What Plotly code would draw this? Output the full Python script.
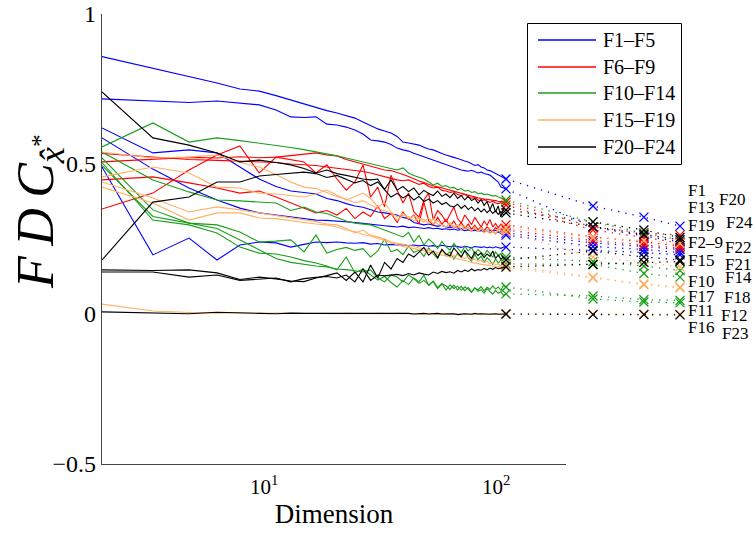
import math
import plotly.graph_objects as go

# Dimensions of the solid curves and of the dotted extension
DIMS = list(range(2, 51))
EXT_DIMS = [100, 150, 200]

GROUPS = ["F1\u2013F5", "F6\u2013F9", "F10\u2013F14", "F15\u2013F19", "F20\u2013F24"]
GROUP_COLORS = ["#0000ff", "#ff0000", "#1a9e1a", "#ffb066", "#000000"]

# FDC per function for dimension 2..50
F1 = [0.858, 0.820, 0.793, 0.770, 0.750, 0.743, 0.728, 0.713, 0.700, 0.690,
      0.678, 0.670, 0.660, 0.653, 0.640, 0.628, 0.617, 0.610, 0.603, 0.592,
      0.573, 0.570, 0.566, 0.563, 0.556, 0.550, 0.547, 0.540, 0.535, 0.530,
      0.527, 0.522, 0.518, 0.513, 0.510, 0.507, 0.500, 0.495, 0.498, 0.490,
      0.487, 0.480, 0.478, 0.473, 0.468, 0.465, 0.460, 0.455, 0.450]
F2 = [0.717, 0.710, 0.705, 0.710, 0.703, 0.697, 0.680, 0.657, 0.655, 0.657,
      0.633, 0.630, 0.623, 0.613, 0.600, 0.580, 0.577, 0.573, 0.565, 0.553,
      0.547, 0.543, 0.536, 0.530, 0.525, 0.519, 0.513, 0.507, 0.502, 0.497,
      0.494, 0.490, 0.486, 0.480, 0.478, 0.476, 0.479, 0.474, 0.470, 0.473,
      0.468, 0.466, 0.463, 0.455, 0.447, 0.440, 0.423, 0.420, 0.417]
F3 = [0.620, 0.537, 0.547, 0.537, 0.490, 0.450, 0.425, 0.410, 0.405, 0.400,
      0.385, 0.378, 0.368, 0.360, 0.356, 0.348, 0.340, 0.337, 0.334, 0.330,
      0.322, 0.318, 0.305, 0.300, 0.297, 0.300, 0.295, 0.292, 0.296, 0.290,
      0.288, 0.291, 0.286, 0.284, 0.288, 0.282, 0.285, 0.280, 0.283, 0.279,
      0.282, 0.278, 0.280, 0.276, 0.279, 0.274, 0.275, 0.272, 0.270]
F4 = [0.587, 0.483, 0.420, 0.380, 0.353, 0.337, 0.330, 0.323, 0.318, 0.313,
      0.312, 0.310, 0.307, 0.305, 0.302, 0.300, 0.297, 0.294, 0.292, 0.290,
      0.293, 0.288, 0.290, 0.287, 0.285, 0.288, 0.284, 0.286, 0.282, 0.284,
      0.281, 0.283, 0.279, 0.282, 0.278, 0.280, 0.277, 0.279, 0.276, 0.278,
      0.274, 0.277, 0.272, 0.275, 0.270, 0.273, 0.268, 0.266, 0.263]
F5 = [0.490, 0.197, 0.253, 0.180, 0.230, 0.240, 0.237, 0.223, 0.232, 0.240,
      0.238, 0.240, 0.237, 0.236, 0.238, 0.233, 0.235, 0.230, 0.232, 0.230,
      0.231, 0.228, 0.230, 0.227, 0.229, 0.226, 0.228, 0.225, 0.229, 0.226,
      0.224, 0.227, 0.225, 0.222, 0.226, 0.224, 0.221, 0.225, 0.223, 0.222,
      0.224, 0.221, 0.223, 0.220, 0.224, 0.222, 0.219, 0.223, 0.223]
F6 = [0.507, 0.515, 0.522, 0.520, 0.524, 0.521, 0.523, 0.528, 0.532, 0.537,
      0.530, 0.527, 0.515, 0.507, 0.500, 0.492, 0.486, 0.480, 0.478, 0.472,
      0.465, 0.458, 0.450, 0.443, 0.438, 0.432, 0.427, 0.424, 0.420, 0.417,
      0.412, 0.408, 0.405, 0.401, 0.398, 0.394, 0.392, 0.389, 0.387, 0.385,
      0.384, 0.382, 0.380, 0.379, 0.378, 0.376, 0.375, 0.374, 0.373]
F7 = [0.535, 0.522, 0.515, 0.512, 0.510, 0.508, 0.505, 0.500, 0.497, 0.495,
      0.490, 0.486, 0.482, 0.480, 0.475, 0.470, 0.463, 0.457, 0.452, 0.447,
      0.444, 0.447, 0.438, 0.432, 0.436, 0.425, 0.420, 0.423, 0.412, 0.410,
      0.405, 0.408, 0.398, 0.395, 0.399, 0.390, 0.386, 0.388, 0.380, 0.378,
      0.381, 0.375, 0.372, 0.376, 0.370, 0.368, 0.371, 0.366, 0.363]
F8 = [0.350, 0.403, 0.480, 0.530, 0.560, 0.470, 0.523, 0.515, 0.507, 0.470,
      0.497, 0.450, 0.413, 0.440, 0.497, 0.390, 0.423, 0.357, 0.463, 0.413,
      0.370, 0.403, 0.340, 0.323, 0.380, 0.403, 0.313, 0.345, 0.330, 0.307,
      0.335, 0.357, 0.318, 0.303, 0.330, 0.312, 0.298, 0.322, 0.305, 0.290,
      0.310, 0.296, 0.315, 0.290, 0.302, 0.287, 0.300, 0.292, 0.297]
F9 = [0.447, 0.457, 0.437, 0.420, 0.403, 0.410, 0.390, 0.370, 0.352, 0.337,
      0.345, 0.330, 0.352, 0.318, 0.340, 0.325, 0.360, 0.318, 0.335, 0.305,
      0.340, 0.315, 0.330, 0.300, 0.372, 0.310, 0.296, 0.322, 0.300, 0.315,
      0.292, 0.310, 0.288, 0.305, 0.285, 0.300, 0.282, 0.296, 0.280, 0.292,
      0.278, 0.290, 0.283, 0.276, 0.288, 0.280, 0.284, 0.277, 0.280]
F10 = [0.520, 0.347, 0.303, 0.297, 0.273, 0.240, 0.243, 0.247, 0.207, 0.263,
       0.203, 0.215, 0.222, 0.212, 0.218, 0.190, 0.210, 0.250, 0.207, 0.215,
       0.198, 0.226, 0.205, 0.213, 0.192, 0.220, 0.200, 0.185, 0.214, 0.196,
       0.207, 0.183, 0.202, 0.190, 0.211, 0.188, 0.176, 0.199, 0.181, 0.193,
       0.172, 0.188, 0.178, 0.165, 0.184, 0.170, 0.180, 0.163, 0.167]
F11 = [0.505, 0.313, 0.297, 0.270, 0.223, 0.203, 0.200, 0.190, 0.178, 0.170,
       0.160, 0.147, 0.190, 0.137, 0.150, 0.132, 0.113, 0.125, 0.105, 0.090,
       0.112, 0.098, 0.120, 0.107, 0.130, 0.095, 0.110, 0.088, 0.102, 0.080,
       0.097, 0.085, 0.093, 0.079, 0.090, 0.083, 0.072, 0.088, 0.076, 0.081,
       0.070, 0.084, 0.073, 0.066, 0.078, 0.069, 0.074, 0.062, 0.067]
F12 = [0.495, 0.325, 0.303, 0.285, 0.247, 0.215, 0.185, 0.172, 0.165, 0.160,
       0.157, 0.150, 0.148, 0.143, 0.140, 0.147, 0.120, 0.107, 0.130, 0.123,
       0.107, 0.130, 0.118, 0.102, 0.112, 0.097, 0.108, 0.085, 0.100, 0.094,
       0.082, 0.096, 0.080, 0.092, 0.078, 0.088, 0.074, 0.086, 0.080, 0.091,
       0.077, 0.089, 0.082, 0.094, 0.083, 0.090, 0.079, 0.095, 0.090]
F13 = [0.557, 0.637, 0.573, 0.587, 0.578, 0.570, 0.562, 0.555, 0.548, 0.541,
       0.535, 0.527, 0.520, 0.513, 0.507, 0.502, 0.497, 0.490, 0.486, 0.480,
       0.487, 0.470, 0.462, 0.457, 0.450, 0.440, 0.430, 0.436, 0.425, 0.428,
       0.420, 0.422, 0.414, 0.418, 0.410, 0.412, 0.405, 0.408, 0.401, 0.403,
       0.398, 0.400, 0.397, 0.393, 0.395, 0.389, 0.386, 0.383, 0.380]
F14 = [0.540, 0.447, 0.407, 0.380, 0.377, 0.373, 0.370, 0.345, 0.356, 0.340,
       0.335, 0.322, 0.310, 0.303, 0.300, 0.297, 0.288, 0.280, 0.272, 0.263,
       0.257, 0.272, 0.240, 0.262, 0.230, 0.250, 0.236, 0.218, 0.242, 0.225,
       0.213, 0.235, 0.218, 0.204, 0.226, 0.210, 0.222, 0.200, 0.215, 0.205,
       0.196, 0.212, 0.200, 0.190, 0.207, 0.194, 0.201, 0.186, 0.190]
F15 = [0.457, 0.490, 0.470, 0.423, 0.420, 0.403, 0.400, 0.395, 0.390, 0.400,
       0.413, 0.396, 0.380, 0.392, 0.403, 0.385, 0.357, 0.372, 0.340, 0.323,
       0.335, 0.318, 0.327, 0.320, 0.306, 0.322, 0.300, 0.312, 0.295, 0.290,
       0.305, 0.288, 0.298, 0.280, 0.294, 0.283, 0.277, 0.290, 0.274, 0.285,
       0.270, 0.282, 0.268, 0.276, 0.265, 0.279, 0.270, 0.268, 0.273]
F16 = [0.033, 0.010, 0.005, 0.003, 0.004, 0.002, 0.003, 0.002, 0.003, 0.002,
       0.002, 0.001, 0.002, 0.001, 0.002, 0.001, 0.002, 0.001, 0.001, 0.002,
       0.001, 0.000, 0.001, 0.000, 0.001, 0.000, 0.001, 0.000, 0.000, 0.001,
       0.000, 0.001, 0.000, 0.000, 0.001, 0.000, 0.000, 0.001, 0.000, 0.000,
       0.000, 0.001, 0.000, 0.000, 0.001, 0.000, 0.000, 0.000, 0.000]
F17 = [0.440, 0.387, 0.340, 0.357, 0.347, 0.337, 0.330, 0.320, 0.315, 0.308,
       0.300, 0.297, 0.285, 0.270, 0.280, 0.262, 0.257, 0.250, 0.240, 0.237,
       0.232, 0.228, 0.226, 0.220, 0.218, 0.213, 0.210, 0.205, 0.208, 0.200,
       0.198, 0.193, 0.197, 0.188, 0.185, 0.190, 0.180, 0.183, 0.176, 0.178,
       0.172, 0.175, 0.168, 0.170, 0.165, 0.167, 0.160, 0.166, 0.163]
F18 = [0.423, 0.370, 0.313, 0.337, 0.337, 0.320, 0.318, 0.310, 0.305, 0.300,
       0.297, 0.290, 0.280, 0.275, 0.265, 0.260, 0.252, 0.245, 0.238, 0.230,
       0.225, 0.222, 0.218, 0.213, 0.210, 0.206, 0.203, 0.198, 0.195, 0.192,
       0.190, 0.186, 0.184, 0.180, 0.178, 0.176, 0.172, 0.170, 0.168, 0.166,
       0.164, 0.162, 0.163, 0.159, 0.160, 0.157, 0.158, 0.154, 0.155]
F19 = [0.540, 0.520, 0.523, 0.530, 0.505, 0.490, 0.465, 0.440, 0.423, 0.418,
       0.405, 0.392, 0.383, 0.370, 0.378, 0.363, 0.352, 0.345, 0.337, 0.313,
       0.330, 0.325, 0.310, 0.320, 0.315, 0.303, 0.318, 0.300, 0.296, 0.290,
       0.302, 0.292, 0.286, 0.298, 0.283, 0.290, 0.279, 0.285, 0.276, 0.288,
       0.280, 0.273, 0.286, 0.275, 0.270, 0.284, 0.278, 0.272, 0.287]
F20 = [0.740, 0.587, 0.563, 0.537, 0.507, 0.513, 0.505, 0.497, 0.485, 0.470,
       0.480, 0.468, 0.462, 0.455, 0.450, 0.447, 0.450, 0.415, 0.447, 0.413,
       0.425, 0.408, 0.420, 0.397, 0.412, 0.402, 0.395, 0.410, 0.392, 0.400,
       0.388, 0.403, 0.385, 0.395, 0.380, 0.392, 0.378, 0.385, 0.370, 0.382,
       0.362, 0.375, 0.348, 0.368, 0.340, 0.360, 0.323, 0.352, 0.347]
F21 = [0.140, 0.140, 0.123, 0.130, 0.112, 0.117, 0.120, 0.107, 0.118, 0.122,
       0.125, 0.120, 0.130, 0.107, 0.150, 0.112, 0.130, 0.127, 0.130, 0.132,
       0.128, 0.135, 0.130, 0.137, 0.133, 0.130, 0.140, 0.135, 0.142, 0.138,
       0.141, 0.136, 0.145, 0.140, 0.146, 0.142, 0.150, 0.144, 0.148, 0.146,
       0.152, 0.147, 0.153, 0.149, 0.155, 0.151, 0.153, 0.156, 0.157]
F22 = [0.147, 0.145, 0.147, 0.137, 0.115, 0.123, 0.117, 0.110, 0.108, 0.120,
       0.128, 0.137, 0.112, 0.140, 0.107, 0.163, 0.120, 0.172, 0.150, 0.185,
       0.172, 0.200, 0.190, 0.205, 0.222, 0.196, 0.210, 0.188, 0.215, 0.200,
       0.193, 0.220, 0.205, 0.190, 0.212, 0.198, 0.185, 0.207, 0.195, 0.203,
       0.188, 0.200, 0.192, 0.210, 0.185, 0.196, 0.183, 0.190, 0.180]
F23 = [0.007, 0.003, 0.001, 0.006, 0.003, 0.002, 0.001, 0.003, 0.002, 0.002,
       0.001, 0.003, 0.002, 0.001, 0.002, 0.003, 0.001, 0.002, 0.001, 0.002,
       0.001, 0.002, 0.000, 0.001, 0.002, 0.000, 0.001, 0.002, 0.000, 0.001,
       0.000, 0.001, -0.002, 0.000, 0.001, 0.000, -0.001, 0.002, 0.000, 0.001,
       0.000, 0.001, -0.001, 0.000, 0.001, -0.001, 0.000, 0.001, 0.000]
F24 = [0.180, 0.373, 0.390, 0.440, 0.440, 0.460, 0.465, 0.470, 0.473, 0.468,
       0.455, 0.462, 0.448, 0.437, 0.445, 0.428, 0.440, 0.413, 0.390, 0.402,
       0.387, 0.398, 0.380, 0.392, 0.375, 0.383, 0.370, 0.378, 0.365, 0.372,
       0.360, 0.357, 0.366, 0.352, 0.362, 0.348, 0.357, 0.344, 0.353, 0.340,
       0.350, 0.338, 0.347, 0.335, 0.344, 0.332, 0.342, 0.330, 0.337]

# FDC at dimensions 100, 150, 200
EXT = {
    "F1": [0.360, 0.323, 0.293], "F2": [0.290, 0.260, 0.240],
    "F3": [0.237, 0.225, 0.215], "F4": [0.225, 0.215, 0.205],
    "F5": [0.213, 0.205, 0.197], "F6": [0.290, 0.270, 0.263],
    "F7": [0.280, 0.255, 0.237], "F8": [0.257, 0.240, 0.227],
    "F9": [0.245, 0.230, 0.220], "F10": [0.165, 0.135, 0.123],
    "F11": [0.060, 0.048, 0.045], "F12": [0.050, 0.040, 0.037],
    "F13": [0.307, 0.270, 0.247], "F14": [0.175, 0.160, 0.145],
    "F15": [0.190, 0.173, 0.157], "F16": [0.000, 0.000, 0.000],
    "F17": [0.123, 0.097, 0.087], "F18": [0.120, 0.100, 0.090],
    "F19": [0.255, 0.245, 0.235], "F20": [0.307, 0.280, 0.255],
    "F21": [0.165, 0.172, 0.175], "F22": [0.210, 0.190, 0.180],
    "F23": [-0.002, -0.002, -0.003], "F24": [0.290, 0.265, 0.247],
}

SERIES = [
    ("F1", F1), ("F2", F2), ("F3", F3), ("F4", F4), ("F5", F5),
    ("F6", F6), ("F7", F7), ("F8", F8), ("F9", F9),
    ("F10", F10), ("F11", F11), ("F12", F12), ("F13", F13), ("F14", F14),
    ("F15", F15), ("F16", F16), ("F17", F17), ("F18", F18), ("F19", F19),
    ("F20", F20), ("F21", F21), ("F22", F22), ("F23", F23), ("F24", F24),
]
GROUP_OF = [0] * 5 + [1] * 4 + [2] * 5 + [3] * 5 + [4] * 5

END_LABELS = ["F1", "F20", "F13", "F24", "F19", "F2\u20139", "F22", "F15",
              "F21", "F14", "F10", "F17", "F18", "F11", "F12", "F16", "F23"]

# visible dimension axis: 2 .. 200
AXIS_DIMS = [2, 200]

SERIF = "Liberation Serif, Times New Roman, serif"

# figure geometry (pixels)
W, H = 753, 537
L, R, T, B = 102, 0, 14, 73
PW, PH = W - L - R, H - T - B
DECADE_PX = 289.0          # data axis: pixels per decade
AXIS_END_PX = 566          # visible dimension axis ends here


def px_x(px):
    return (px - L) / PW


def px_y(py):
    return 1 - (py - T) / PH


fig = go.Figure()

# carrier trace so the visible dimension axis gets drawn
fig.add_trace(go.Scatter(
    x=AXIS_DIMS, y=[-0.5, -0.5], mode="lines", xaxis="x", yaxis="y",
    line=dict(width=0, color="rgba(0,0,0,0)"), showlegend=False,
    hoverinfo="skip"))

for (name, vals), g in zip(SERIES, GROUP_OF):
    c = GROUP_COLORS[g]
    fig.add_trace(go.Scatter(
        x=DIMS, y=vals, mode="lines", xaxis="x2", yaxis="y",
        line=dict(color=c, width=1.1), name=name,
        showlegend=False, hoverinfo="skip"))
    fig.add_trace(go.Scatter(
        x=[DIMS[-1]] + EXT_DIMS, y=[vals[-1]] + EXT[name],
        mode="lines+markers", xaxis="x2", yaxis="y",
        line=dict(color=c, width=1.3, dash="1.3px,6px"),
        marker=dict(symbol="x-thin", size=9, line=dict(width=1.3, color=c)),
        showlegend=False, hoverinfo="skip"))

shapes = []
annotations = []

# boxed legend: one key line per function group
shapes.append(dict(type="rect", xref="paper", yref="paper",
                   x0=px_x(527.5), x1=px_x(681.5), y0=px_y(164.5),
                   y1=px_y(23.5), fillcolor="white",
                   line=dict(color="black", width=1), layer="above"))
legend_rows = [40, 67, 93, 120, 147]
for lab, c, row in zip(GROUPS, GROUP_COLORS, legend_rows):
    shapes.append(dict(type="line", xref="paper", yref="paper",
                       x0=px_x(538), x1=px_x(596), y0=px_y(row), y1=px_y(row),
                       line=dict(color=c, width=1.6), layer="above"))
    annotations.append(dict(
        text=lab, x=px_x(601), y=px_y(row), xref="paper", yref="paper",
        xanchor="left", yanchor="middle", showarrow=False,
        font=dict(family=SERIF, size=20, color="black")))

# right-hand function labels
col1 = 686
col2 = {"F20": 717, "F24": 724, "F22": 723, "F21": 723, "F14": 723,
        "F18": 722, "F12": 719, "F23": 720}
label_y = [190, 199, 207, 222, 226, 242, 247, 260, 264, 277, 281, 296, 297,
           310, 315, 327, 333]
for txt, py in zip(END_LABELS, label_y):
    annotations.append(dict(
        text=txt, x=px_x(col2.get(txt, col1)), y=px_y(py), xref="paper",
        yref="paper", xanchor="left", yanchor="middle", showarrow=False,
        font=dict(family=SERIF, size=17, color="black")))

# y-axis title
annotations.append(dict(
    text="<i>F\u2009D\u2009C</i><sub><i>x\u0302</i><sup>*</sup></sub>",
    x=px_x(40), y=px_y(212), xref="paper", yref="paper", textangle=-90,
    xanchor="center", yanchor="middle", showarrow=False,
    font=dict(family=SERIF, size=52, color="black")))

log_lo = math.log10(2)
fig.update_layout(
    width=W, height=H, margin=dict(l=L, r=R, t=T, b=B),
    paper_bgcolor="white", plot_bgcolor="white",
    font=dict(family=SERIF, color="black"),
    xaxis=dict(
        type="log", domain=[0, (AXIS_END_PX - L) / PW], anchor="y",
        range=[log_lo, math.log10(200)], showgrid=False, zeroline=False,
        showline=True, linecolor="#444", linewidth=1.2,
        ticks="inside", ticklen=6, tickcolor="#444", tickwidth=1,
        tickmode="array", tickvals=[10, 100],
        ticktext=["10<sup>1</sup>", "10<sup>2</sup>"],
        tickfont=dict(family=SERIF, size=21), ticklabelstandoff=4,
        minor=dict(ticks="inside", ticklen=3, tickcolor="#444",
                   tickmode="array",
                   tickvals=[3, 4, 5, 6, 7, 8, 9, 20, 30, 40, 50, 60, 70,
                             80, 90, 200]),
        title=dict(text="Dimension", font=dict(family=SERIF, size=27),
                   standoff=4),
    ),
    xaxis2=dict(
        type="log", domain=[0, 1], anchor="y",
        range=[log_lo, log_lo + PW / DECADE_PX], visible=False,
    ),
    yaxis=dict(
        range=[-0.5, 1], anchor="x", domain=[0, 1], showgrid=False,
        zeroline=False, showline=True, linecolor="#444", linewidth=1.2,
        ticks="inside", ticklen=6, tickcolor="#444",
        tickmode="array", tickvals=[-0.5, 0, 0.5, 1],
        ticktext=["\u22120.5", "0", "0.5", "1"],
        tickfont=dict(family=SERIF, size=24),
    ),
    shapes=shapes,
    annotations=annotations,
    showlegend=False,
)

fig.write_html("out.html")
